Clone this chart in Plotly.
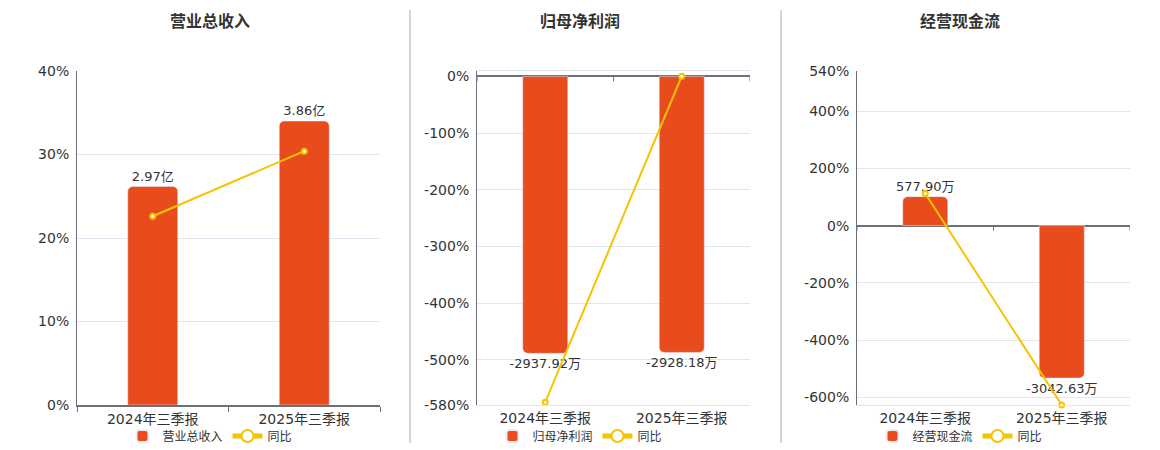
import plotly.graph_objects as go

# data
periods = ["2024年三季报", "2025年三季报"]

revenue = [2.97, 3.86]            # 亿
revenue_text = ["2.97亿", "3.86亿"]
revenue_yoy = [22.6, 30.4]        # %

profit = [-2937.92, -2928.18]     # 万
profit_text = ["-2937.92万", "-2928.18万"]
profit_yoy = [-575.0, 0.33]

cash = [577.90, -3042.63]         # 万
cash_text = ["577.90万", "-3042.63万"]
cash_yoy = [112.0, -626.49]

titles = ["营业总收入", "归母净利润", "经营现金流"]

pct_ticks = [
    [0, 10, 20, 30, 40],
    [0, -100, -200, -300, -400, -500, -580],
    [540, 400, 200, 0, -200, -400, -600],
]
pct_ranges = [[0, 40], [-580, 9.5], [-626.49, 540]]
bar_ranges = [[0, 4.54], [-3486, 57.1], [-3580, 3086]]

BAR = "#E84C1D"
LINE = "#F5C400"
FONT = "DejaVu Sans, Noto Sans CJK SC, sans-serif"
GRID = "#E0E6F1"
AXIS = "#6E7079"

x_domains = [[77 / 1160, 380 / 1160], [477 / 1160, 750 / 1160], [857 / 1160, 1130 / 1160]]
y_domain = [45 / 450, 379 / 450]
title_x = [210 / 1160, 580 / 1160, 960 / 1160]

fig = go.Figure()

series = [
    (revenue, revenue_text, revenue_yoy),
    (profit, profit_text, profit_yoy),
    (cash, cash_text, cash_yoy),
]

for i, (vals, txt, yoy) in enumerate(series):
    n = i + 1
    xa = "x" if n == 1 else f"x{n}"
    ybar = "y" if n == 1 else f"y{2 * n - 1}"
    ypct = f"y{2 * n}"
    leg = "legend" if n == 1 else f"legend{n}"
    fig.add_trace(go.Bar(
        x=periods, y=vals, text=txt, textposition="outside",
        textfont=dict(size=13, color="#333"), cliponaxis=False,
        constraintext="none",
        marker_color=BAR, width=0.33, name=titles[i],
        xaxis=xa, yaxis=ybar, legend=leg,
    ))
    fig.add_trace(go.Scatter(
        x=periods, y=yoy, mode="lines+markers", name="同比",
        line=dict(color=LINE, width=2),
        marker=dict(size=5, color="white", line=dict(color=LINE, width=2)),
        cliponaxis=False, xaxis=xa, yaxis=ypct, legend=leg,
    ))

layout = dict(
    width=1160, height=450,
    margin=dict(l=0, r=0, t=0, b=0, autoexpand=False),
    paper_bgcolor="white", plot_bgcolor="white",
    font=dict(family=FONT, size=14, color="#333"),
    barcornerradius=5,
    showlegend=True,
)

for i in range(3):
    n = i + 1
    xk = "xaxis" if n == 1 else f"xaxis{n}"
    ybk = "yaxis" if n == 1 else f"yaxis{2 * n - 1}"
    ypk = f"yaxis{2 * n}"
    ybar = "y" if n == 1 else f"y{2 * n - 1}"
    xa = "x" if n == 1 else f"x{n}"
    layout[xk] = dict(
        domain=x_domains[i], anchor=ybar, type="category",
        tickson="boundaries", showgrid=False, zeroline=False,
        tickfont=dict(size=14, color="#333"), automargin=False,
        showline=True, linecolor=AXIS if n == 1 else GRID,
        linewidth=2 if n == 1 else 1,
        mirror=(n == 2),
        ticks="outside" if n == 1 else "", ticklen=5, tickcolor=AXIS,
        range=[-0.5, 1.5], fixedrange=True,
    )
    layout[ybk] = dict(
        domain=y_domain, anchor=xa, range=bar_ranges[i], visible=False,
        showgrid=False, zeroline=False, automargin=False,
    )
    layout[ypk] = dict(
        domain=y_domain, anchor=xa, overlaying=ybar, side="left",
        range=pct_ranges[i], tickvals=pct_ticks[i],
        ticktext=[f"{v}%" for v in pct_ticks[i]],
        showgrid=True, gridcolor=GRID, gridwidth=1,
        zeroline=(n != 1), zerolinecolor=AXIS, zerolinewidth=2,
        showline=True, linecolor=AXIS, linewidth=1,
        ticks="", ticklabelstandoff=4, automargin=False,
        tickfont=dict(size=14, color="#333"),
    )
    lk = "legend" if n == 1 else f"legend{n}"
    layout[lk] = dict(
        orientation="h", x=title_x[i], xanchor="center",
        y=14 / 450, yanchor="middle", font=dict(size=12, color="#333"),
        bgcolor="rgba(0,0,0,0)", itemwidth=30, tracegroupgap=0,
        itemsizing="constant",
    )

fig.update_layout(**layout)

for i in range(3):
    fig.add_annotation(
        text=f"<b>{titles[i]}</b>", x=title_x[i], y=428 / 450,
        xref="paper", yref="paper", xanchor="center", yanchor="middle",
        showarrow=False, font=dict(size=16, color="#333"),
    )

# separators between panels
for sx in [410 / 1160, 781 / 1160]:
    fig.add_shape(type="line", xref="paper", yref="paper",
                  x0=sx, x1=sx, y0=7 / 450, y1=440 / 450,
                  line=dict(color="#AAAAAA", width=1))

# small ticks on zero axis for panels 2 and 3
for n in [2, 3]:
    for pos in [-0.5, 0.5, 1.5]:
        fig.add_shape(type="line", xref=f"x{n}", yref=f"y{2 * n}",
                      x0=pos, x1=pos, ysizemode="pixel", yanchor=0,
                      y0=0, y1=-5, line=dict(color=AXIS, width=1))

fig.write_html("out.html", config={"displayModeBar": False},
               post_script="document.body.style.margin='0';")
